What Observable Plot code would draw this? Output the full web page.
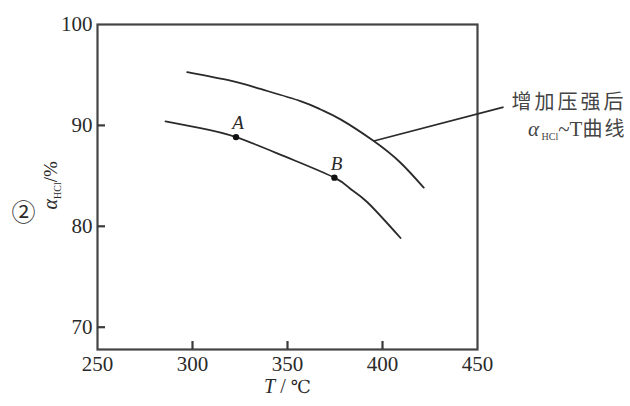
<!DOCTYPE html>
<html><head><meta charset="utf-8">
<script src="https://cdn.jsdelivr.net/npm/d3@7"></script>
<script src="https://cdn.jsdelivr.net/npm/@observablehq/plot@0.6"></script>
<style>body{margin:0;background:#fff}</style>
</head><body><div id="chart"></div>
<script>
// Data
const xTicks = [250, 300, 350, 400, 450];
const yTicks = [70, 80, 90, 100];
const xInnerTicks = [300, 350, 400];
const yInnerTicks = [70, 80, 90];
const baseT = [285.8, 304.2, 322.9, 348.9, 374.7, 383.2, 391.9, 409.5];
const baseA = [90.40, 89.73, 88.84, 86.90, 84.82, 83.70, 82.41, 78.84];
const highT = [297.2, 320.0, 335.8, 356.8, 367.4, 377.9, 395.4, 409.5, 421.7];
const highA = [95.28, 94.43, 93.61, 92.41, 91.58, 90.60, 88.45, 86.30, 83.83];
const pointNames = ["A", "B"];
const pointT = [322.9, 374.7];
const pointA = [88.84, 84.82];
const leaderFrom = [395.4, 88.45];
const leaderTo = [463.7, 91.81];
const noteLines = ["增加压强后", "αHCl~T曲线"];
const noteT = [528.4, 528.4];
const noteA = [92.3, 89.6];

const base = baseT.map((t, i) => ({T: t, a: baseA[i]}));
const high = highT.map((t, i) => ({T: t, a: highA[i]}));
const pts = pointNames.map((n, i) => ({name: n, T: pointT[i], a: pointA[i]}));
const notes = noteLines.map((s, i) => ({s, T: noteT[i], a: noteA[i], i}));

const serif = "'Liberation Serif', 'DejaVu Serif', serif";
const cjk = "'Noto Sans CJK SC', sans-serif";
const ink = "#2a2a2a";
const W = 630, H = 406, mL = 97, mR = 153, mT = 24, mB = 57, tickLen = 8;

const plot = Plot.plot({
  width: W, height: H,
  marginLeft: mL, marginRight: mR, marginTop: mT, marginBottom: mB,
  x: {domain: [250, 450]},
  y: {domain: [67.79, 100]},
  style: {fontFamily: serif, fontSize: "21px", color: ink, background: "white", overflow: "visible"},
  marks: [
    Plot.axisX({ticks: xTicks, tickSize: 0, tickPadding: 7, label: null, fontSize: 21, fill: ink}),
    Plot.axisY({ticks: yTicks, tickSize: 0, tickPadding: 5, label: null, fontSize: 21, fill: ink}),
    Plot.frame({stroke: "#444", strokeWidth: 2.2}),
    Plot.tickX(xInnerTicks, {x: d => d, insetTop: (H - mT - mB) - tickLen, stroke: "#3a3a3a", strokeWidth: 2.2}),
    Plot.tickY(yInnerTicks, {y: d => d, insetRight: (W - mL - mR) - tickLen, stroke: "#3a3a3a", strokeWidth: 2.2}),
    Plot.line(base, {x: "T", y: "a", curve: "natural", stroke: ink, strokeWidth: 1.8}),
    Plot.line(high, {x: "T", y: "a", curve: "natural", stroke: ink, strokeWidth: 1.8}),
    Plot.dot(pts, {x: "T", y: "a", r: 3.2, fill: "#111", stroke: "none"}),
    Plot.text(pts, {x: "T", y: "a", text: "name", dy: -14, dx: 2, fontStyle: "italic", fontSize: 19, fill: ink}),
    Plot.link([0], {x1: () => leaderFrom[0], y1: () => leaderFrom[1], x2: () => leaderTo[0], y2: () => leaderTo[1], stroke: ink, strokeWidth: 1.6}),
    Plot.text(notes, {x: "T", y: "a", text: "s", textAnchor: "end", fontSize: 19, fill: "#444", ariaDescription: "note"}),
    Plot.text(["T / ℃"], {x: 350, frameAnchor: "bottom", dy: 43, fontSize: 20, fill: ink, ariaDescription: "x-label"}),
    Plot.text(["αHCl/%"], {x: 225.3, y: 84.06, rotate: -90, fontSize: 19, fill: ink, ariaDescription: "y-label"}),
    Plot.text(["②"], {x: 211, y: 81.3, fontSize: 24, fill: ink, fontFamily: cjk})
  ]
});
document.getElementById("chart").appendChild(plot);

// Rich text: italics and subscripts
const sel = d3.select(plot);
sel.selectAll('g[aria-description="x-label"] text').each(function () {
  const t = d3.select(this); t.text(null);
  t.append("tspan").attr("font-style", "italic").text("T");
  t.append("tspan").text(" / ");
  t.append("tspan").attr("font-family", "'DejaVu Serif', serif").attr("font-size", 18).text("℃");
});
sel.selectAll('g[aria-description="y-label"] text').each(function () {
  const t = d3.select(this); t.text(null);
  t.append("tspan").attr("font-style", "italic").attr("font-size", 20).text("α");
  t.append("tspan").attr("font-size", 10).attr("dy", 4).text("HCl");
  t.append("tspan").attr("dy", -4).text("/%");
});
sel.selectAll('g[aria-description="note"] text').each(function () {
  const t = d3.select(this);
  const s = t.text();
  if (s.startsWith("α")) {
    t.text(null);
    t.append("tspan").attr("font-style", "italic").attr("font-family", serif).attr("font-size", 21).text("α");
    t.append("tspan").attr("font-family", serif).attr("font-size", 10).attr("dy", 4).text(" HCl");
    t.append("tspan").attr("font-family", serif).attr("font-size", 21).attr("dy", -4).text("~T");
    t.append("tspan").attr("font-family", cjk).attr("font-size", 20).attr("letter-spacing", 2).text("曲线");
  } else {
    t.attr("font-family", cjk).attr("font-size", 20).attr("letter-spacing", 3);
  }
});
</script>
</body></html>
